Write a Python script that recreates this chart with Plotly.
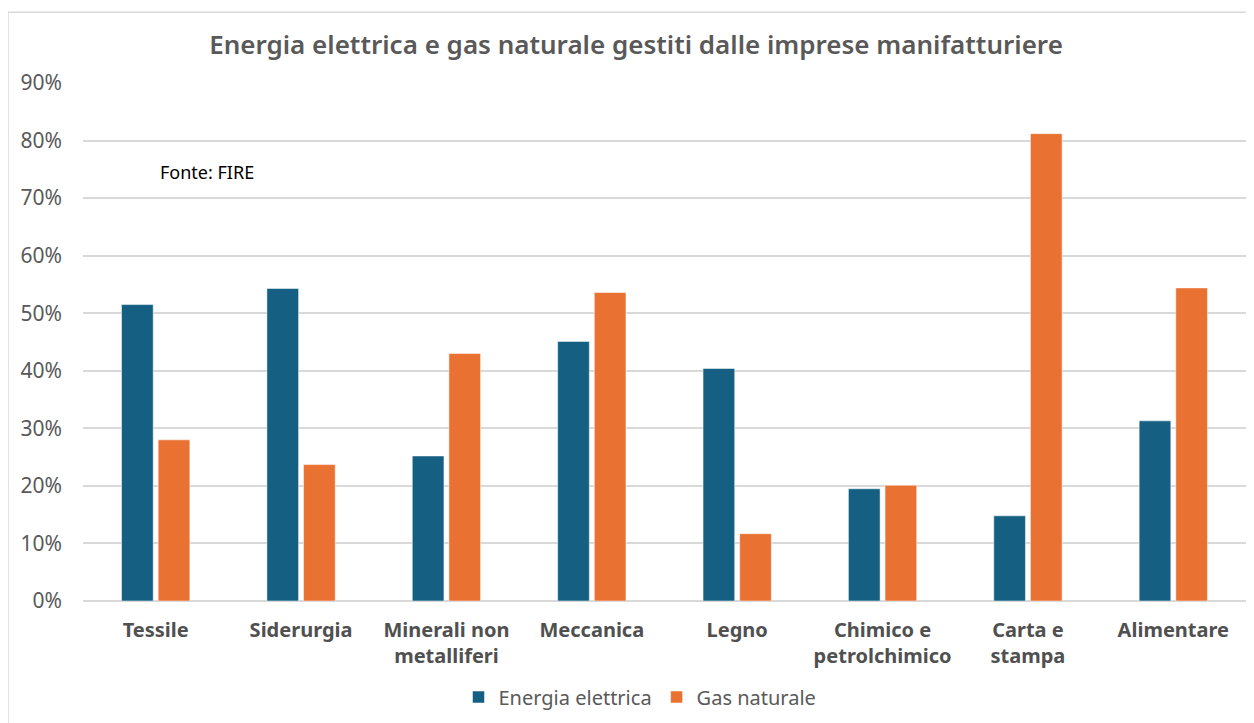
import plotly.graph_objects as go

categories = ["Tessile", "Siderurgia", "Minerali non<br>metalliferi", "Meccanica", "Legno",
              "Chimico e<br>petrolchimico", "Carta e<br>stampa", "Alimentare"]
energia_elettrica = [0.515, 0.543, 0.252, 0.451, 0.404, 0.195, 0.148, 0.313]
gas_naturale = [0.280, 0.237, 0.430, 0.536, 0.117, 0.201, 0.812, 0.544]
y_ticks = [0, 0.1, 0.2, 0.3, 0.4, 0.5, 0.6, 0.7, 0.8, 0.9]
y_labels = ["0%", "10%", "20%", "30%", "40%", "50%", "60%", "70%", "80%", "90%"]

FONT = "Noto Sans"
OFF = 8  # page body margin
fig = go.Figure()
fig.add_trace(go.Bar(x=categories, y=energia_elettrica, name="Energia elettrica",
                     marker=dict(color="#156082", line=dict(color="rgba(255,255,255,0.5)", width=1))))
fig.add_trace(go.Bar(x=categories, y=gas_naturale, name="Gas naturale",
                     marker=dict(color="#E97132", line=dict(color="rgba(255,255,255,0.5)", width=1))))

W, H = 1254 - OFF, 723 - OFF
# target page coordinates
PX0, PX1, PY0, PY1 = 83, 1246, 83, 602
ml, mr = PX0 - OFF, W - (PX1 - OFF)
mt, mb = PY0 - OFF, H - (PY1 - OFF)
pw = W - ml - mr
ph = H - mt - mb

def px(xp):
    return (xp - OFF - ml) / pw

def py(yp):
    return 1 - (yp - OFF - mt) / ph

fig.update_layout(
    width=W, height=H,
    margin=dict(l=ml, r=mr, t=mt, b=mb),
    paper_bgcolor="white", plot_bgcolor="white",
    barmode="group", bargap=0.496, bargroupgap=0.135,
    title=dict(text="Energia elettrica e gas naturale gestiti dalle imprese manifatturiere",
               x=(636 - OFF) / W, xanchor="center", y=1 - (45 - OFF) / H, yanchor="middle",
               font=dict(family=FONT, size=26, color="#595959", weight=600)),
    font=dict(family=FONT, color="#595959"),
    showlegend=True,
    legend=dict(orientation="h", x=px(640), xanchor="center",
                y=py(697), yanchor="middle",
                font=dict(family=FONT, size=20, color="#595959"),
                itemwidth=30, traceorder="normal"),
    xaxis=dict(showgrid=False, showline=False, ticks="",
               tickfont=dict(family=FONT, size=20, color="#505050", weight="bold"),
               ticklabelstandoff=15),
    yaxis=dict(range=[0, 0.9], tickvals=y_ticks, ticktext=y_labels,
               showgrid=True, gridcolor="#D9D9D9", gridwidth=1.5,
               zeroline=True, zerolinecolor="#D9D9D9", zerolinewidth=1.5,
               showline=False, ticks="",
               tickfont=dict(family=FONT, size=21, color="#595959"),
               ticklabelstandoff=20),
    annotations=[dict(text="Fonte: FIRE", xref="paper", yref="paper",
                      x=px(158), y=py(172), xanchor="left", yanchor="middle",
                      showarrow=False, font=dict(family=FONT, size=18, color="#000000"))],
    shapes=[dict(type="rect", xref="paper", yref="paper",
                 x0=px(8), x1=px(1262), y0=py(12), y1=py(730),
                 line=dict(color="#D9D9D9", width=1.5), layer="below")],
)

fig.write_html("out.html")
